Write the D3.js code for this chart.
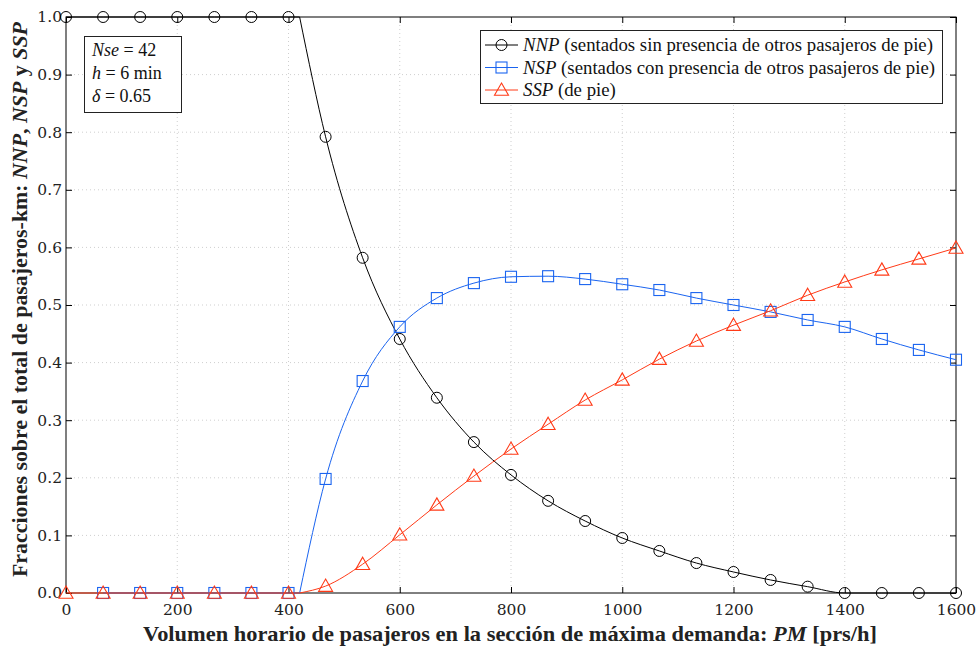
<!DOCTYPE html>
<html>
<head>
<meta charset="utf-8">
<script src="https://cdn.jsdelivr.net/npm/d3@7"></script>
<style>
  html, body { margin: 0; padding: 0; background: #fff; }
  svg { display: block; }
</style>
</head>
<body>
<svg id="chart" width="976" height="648"></svg>
<script>
// Volumen horario en la sección de máxima demanda (prs/h)
const pm = [0, 66.7, 133.3, 200, 266.7, 333.3, 400, 466.7, 533.3, 600, 666.7, 733.3,
            800, 866.7, 933.3, 1000, 1066.7, 1133.3, 1200, 1266.7, 1333.3, 1400,
            1466.7, 1533.3, 1600];
// Fracciones de pasajeros-km
const nnp = [1, 1, 1, 1, 1, 1, 1, 0.792, 0.582, 0.441, 0.339, 0.262, 0.205, 0.160,
             0.125, 0.0955, 0.073, 0.052, 0.0365, 0.0226, 0.011, 0, 0, 0, 0];
const nsp = [null, 0, 0, 0, 0, 0, 0, 0.198, 0.368, 0.462, 0.512, 0.538, 0.549, 0.550,
             0.545, 0.536, 0.526, 0.512, 0.500, 0.488, 0.474, 0.462, 0.441, 0.422, 0.405];
const ssp = [0, 0, 0, 0, 0, 0, 0, 0.012, 0.050, 0.101, 0.153, 0.203, 0.250, 0.293,
             0.335, 0.370, 0.406, 0.4375, 0.465, 0.490, 0.517, 0.540, 0.561, 0.580, 0.599];
// Punto en que se llenan los asientos
const umbralPM = 420;
const umbral = { nnp: 1, nsp: 0, ssp: 0 };

const xTicks = [0, 200, 400, 600, 800, 1000, 1200, 1400, 1600];
const yTicks = [0, 0.1, 0.2, 0.3, 0.4, 0.5, 0.6, 0.7, 0.8, 0.9, 1.0];

const svg = d3.select("#chart");
const plotL = 66, plotR = 956, plotT = 17, plotB = 593;

const x = d3.scaleLinear().domain([0, 1600]).range([plotL, plotR]);
const y = d3.scaleLinear().domain([0, 1]).range([plotB, plotT]);

const serif = "'DejaVu Serif', serif";
const textSerif = "'Liberation Serif', 'Times New Roman', serif";

// Rejilla punteada
const grid = svg.append("g");
grid.selectAll("line.v").data(xTicks.slice(1, -1)).join("line")
  .attr("x1", d => x(d)).attr("x2", d => x(d)).attr("y1", plotT).attr("y2", plotB)
  .attr("stroke", "#cfcfcf").attr("stroke-width", 1).attr("stroke-dasharray", "1,3");
grid.selectAll("line.h").data(yTicks.slice(1, -1)).join("line")
  .attr("y1", d => y(d)).attr("y2", d => y(d)).attr("x1", plotL).attr("x2", plotR)
  .attr("stroke", "#cfcfcf").attr("stroke-width", 1).attr("stroke-dasharray", "1,3");

// Ejes con marcas hacia dentro
function styleAxis(g) {
  g.selectAll("path").remove();
  g.selectAll("line").attr("stroke", "#000");
  g.selectAll("text").attr("font-family", serif).attr("font-size", 15.5).attr("fill", "#222");
}
svg.append("g").attr("transform", `translate(0,${plotB})`)
  .call(d3.axisBottom(x).tickValues(xTicks).tickFormat(d3.format("d")).tickSizeInner(-6).tickSizeOuter(0).tickPadding(11))
  .call(styleAxis);
svg.append("g").attr("transform", `translate(0,${plotT})`)
  .call(d3.axisTop(x).tickValues(xTicks).tickFormat("").tickSizeInner(-6).tickSizeOuter(0))
  .call(styleAxis);
svg.append("g").attr("transform", `translate(${plotL},0)`)
  .call(d3.axisLeft(y).tickValues(yTicks).tickFormat(d3.format(".1f")).tickSizeInner(-6).tickSizeOuter(0).tickPadding(4))
  .call(styleAxis);
svg.append("g").attr("transform", `translate(${plotR},0)`)
  .call(d3.axisRight(y).tickValues(yTicks).tickFormat("").tickSizeInner(-6).tickSizeOuter(0))
  .call(styleAxis);

svg.append("rect").attr("x", plotL).attr("y", plotT)
  .attr("width", plotR - plotL).attr("height", plotB - plotT)
  .attr("fill", "none").attr("stroke", "#000").attr("stroke-width", 1);

// Series
const series = [
  { key: "nnp", values: nnp, color: "#000000", marker: "circle" },
  { key: "nsp", values: nsp, color: "#1a64f0", marker: "square" },
  { key: "ssp", values: ssp, color: "#ff3a17", marker: "triangle" }
];

const flat = d3.line().x(d => x(d[0])).y(d => y(d[1]));
const smooth = d3.line().x(d => x(d[0])).y(d => y(d[1])).curve(d3.curveMonotoneX);

function drawMarker(g, type, cx, cy, color) {
  if (type === "circle") {
    g.append("circle").attr("cx", cx).attr("cy", cy).attr("r", 5.5)
      .attr("fill", "none").attr("stroke", color).attr("stroke-width", 1);
  } else if (type === "square") {
    g.append("rect").attr("x", cx - 5.5).attr("y", cy - 5.5).attr("width", 11).attr("height", 11)
      .attr("fill", "none").attr("stroke", color).attr("stroke-width", 1.1);
  } else {
    const s = 7;
    g.append("path")
      .attr("d", `M${cx},${cy - s}L${cx + s},${cy + s * 0.75}L${cx - s},${cy + s * 0.75}Z`)
      .attr("fill", "none").attr("stroke", color).attr("stroke-width", 1.1);
  }
}

series.forEach(s => {
  const pts = pm.map((p, i) => [p, s.values[i]]).filter(d => d[1] !== null);
  const before = pts.filter(d => d[0] <= 400).concat([[umbralPM, umbral[s.key]]]);
  const after = [[umbralPM, umbral[s.key]]].concat(pts.filter(d => d[0] > umbralPM));
  const g = svg.append("g");
  g.append("path").attr("d", flat(before)).attr("fill", "none")
    .attr("stroke", s.color).attr("stroke-width", 1);
  g.append("path").attr("d", smooth(after)).attr("fill", "none")
    .attr("stroke", s.color).attr("stroke-width", 1);
  pts.forEach(d => drawMarker(g, s.marker, x(d[0]), y(d[1]), s.color));
});

// Cuadro de parámetros
const info = svg.append("g");
info.append("rect").attr("x", 84.5).attr("y", 36.5).attr("width", 97).attr("height", 76)
  .attr("fill", "#fff").attr("stroke", "#222").attr("stroke-width", 1);
const infoLines = [
  [["Nse", true], [" = 42", false]],
  [["h", true], [" = 6 min", false]],
  [["δ", true], [" = 0.65", false]]
];
infoLines.forEach((parts, i) => {
  const t = info.append("text").attr("x", 92).attr("y", 56 + i * 23)
    .attr("font-family", textSerif).attr("font-size", 18).attr("fill", "#111");
  parts.forEach(([txt, it]) => t.append("tspan").text(txt).attr("font-style", it ? "italic" : "normal"));
});

// Leyenda
const legend = svg.append("g");
legend.append("rect").attr("x", 480.5).attr("y", 30.5).attr("width", 462).attr("height", 73)
  .attr("fill", "#fff").attr("stroke", "#222").attr("stroke-width", 1);
const legendItems = [
  { name: "NNP", desc: " (sentados sin presencia de otros pasajeros de pie)", s: series[0] },
  { name: "NSP", desc: " (sentados con presencia de otros pasajeros de pie)", s: series[1] },
  { name: "SSP", desc: " (de pie)", s: series[2] }
];
legendItems.forEach((it, i) => {
  const cy = 45 + i * 22.5;
  legend.append("line").attr("x1", 485).attr("x2", 518).attr("y1", cy).attr("y2", cy)
    .attr("stroke", it.s.color).attr("stroke-width", 1);
  drawMarker(legend, it.s.marker, 501.5, cy, it.s.color);
  const t = legend.append("text").attr("x", 523).attr("y", cy + 6)
    .attr("font-family", textSerif).attr("font-size", 18.8).attr("fill", "#111");
  t.append("tspan").text(it.name).attr("font-style", "italic");
  t.append("tspan").text(it.desc);
});

// Títulos de ejes
const xt = svg.append("text").attr("x", 143).attr("y", 641)
  .attr("font-family", textSerif)
  .attr("font-size", 22).attr("font-weight", "bold").attr("fill", "#222")
  .attr("textLength", 734).attr("lengthAdjust", "spacingAndGlyphs");
xt.append("tspan").text("Volumen horario de pasajeros en la sección de máxima demanda: ");
xt.append("tspan").text("PM").attr("font-style", "italic");
xt.append("tspan").text(" [prs/h]");

const yt = svg.append("text")
  .attr("transform", `translate(27,577) rotate(-90)`)
  .attr("font-family", textSerif)
  .attr("font-size", 21.5).attr("font-weight", "bold").attr("fill", "#222")
  .attr("textLength", 555).attr("lengthAdjust", "spacingAndGlyphs");
yt.append("tspan").text("Fracciones sobre el total de pasajeros-km: ");
yt.append("tspan").text("NNP").attr("font-style", "italic");
yt.append("tspan").text(", ");
yt.append("tspan").text("NSP").attr("font-style", "italic");
yt.append("tspan").text(" y ");
yt.append("tspan").text("SSP").attr("font-style", "italic");
</script>
</body>
</html>
